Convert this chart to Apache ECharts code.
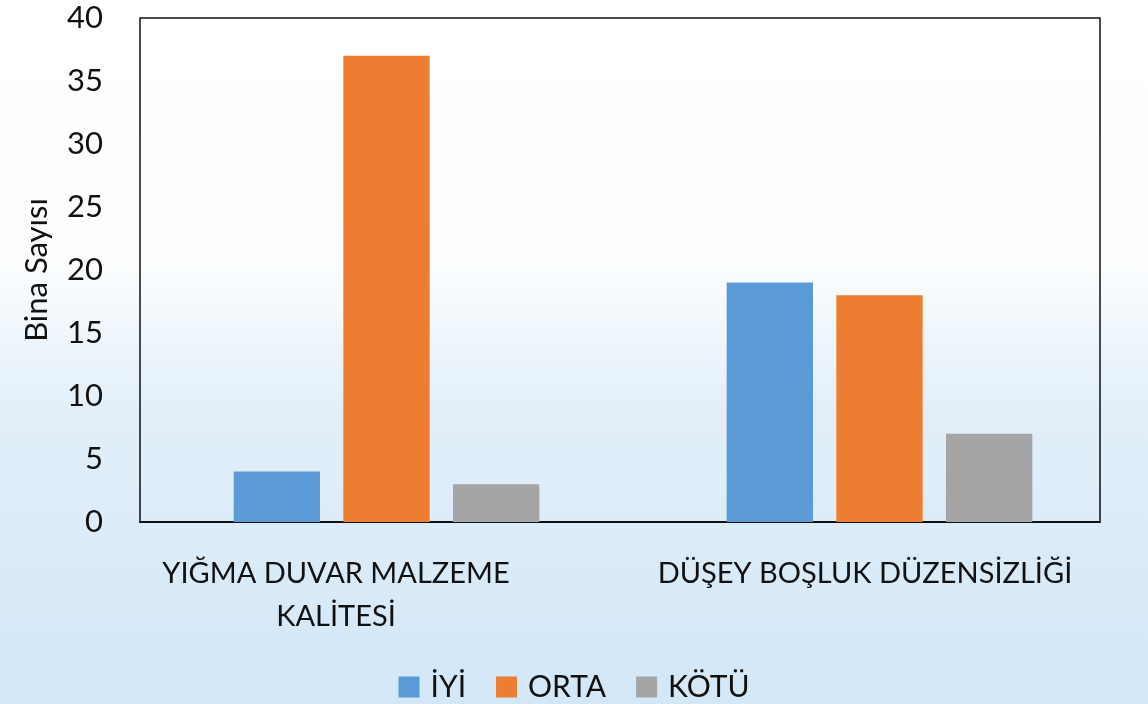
<!DOCTYPE html>
<html>
<head>
<meta charset="utf-8">
<script src="https://cdn.jsdelivr.net/npm/echarts@6/dist/echarts.min.js"></script>
<style>
  html, body { margin: 0; padding: 0; }
  #chart { width: 1148px; height: 704px; }
</style>
</head>
<body>
<div id="chart"></div>
<script>
// kategoriler ve seri değerleri
const categories = ["YIĞMA DUVAR MALZEME KALİTESİ", "DÜŞEY BOŞLUK DÜZENSİZLİĞİ"];
const seriesNames = ["İYİ", "ORTA", "KÖTÜ"];
const iyiValues = [4, 19];
const ortaValues = [37, 18];
const kotuValues = [3, 7];
const yTicks = [0, 5, 10, 15, 20, 25, 30, 35, 40];

const colors = ["#5b9bd5", "#ed7d31", "#a5a5a5"];
const font = "Lato";

const chart = echarts.init(document.getElementById("chart"));

const seriesData = [iyiValues, ortaValues, kotuValues];
const series = seriesNames.map((name, i) => ({
  name: name,
  type: "bar",
  xAxisIndex: 0,
  yAxisIndex: 0,
  barGap: "27%",
  barCategoryGap: "38%",
  itemStyle: { color: colors[i] },
  data: seriesData[i],
}));

// uzun etiketi iki satıra böl
function wrapLabel(v, i) {
  if (i === 0) {
    const words = v.split(" ");
    return "{a|" + words.slice(0, 3).join(" ") + "\n" + words.slice(3).join(" ") + "}";
  }
  return "{b|" + v + "}";
}

const labelBase = {
  fontFamily: font,
  fontSize: 29,
  lineHeight: 43,
  color: "#111",
};

const options = {
  backgroundColor: new echarts.graphic.LinearGradient(0, 0, 0, 1, [
    { offset: 0, color: "#ffffff" },
    { offset: 0.38, color: "#fbfdfe" },
    { offset: 0.58, color: "#e2eff9" },
    { offset: 1, color: "#d3e7f7" },
  ]),
  textStyle: { fontFamily: font },
  grid: [
    // çubuklar
    { left: 140, right: 22, top: 18, bottom: 182, containLabel: false },
    // çerçeve
    {
      left: 140,
      right: 48,
      top: 18,
      bottom: 182,
      show: true,
      borderColor: "#111",
      borderWidth: 1.5,
      backgroundColor: "transparent",
      containLabel: false,
    },
  ],
  legend: {
    data: seriesNames,
    top: 667,
    left: "center",
    icon: "rect",
    itemWidth: 21,
    itemHeight: 21,
    itemGap: 30,
    textStyle: {
      fontFamily: font,
      fontSize: 30,
      color: "#111",
      padding: [0, 0, 0, 6],
    },
  },
  xAxis: [
    {
      type: "category",
      gridIndex: 0,
      data: categories,
      axisTick: { show: false },
      axisLine: { show: false },
      axisLabel: { show: false },
    },
    {
      type: "category",
      gridIndex: 1,
      data: categories,
      axisTick: { show: false },
      axisLine: { lineStyle: { color: "#111", width: 2 } },
      axisLabel: {
        interval: 0,
        margin: 30,
        formatter: wrapLabel,
        rich: {
          a: Object.assign({}, labelBase, { padding: [0, 88, 0, 0] }),
          b: Object.assign({}, labelBase, { padding: [0, 0, 0, 10] }),
        },
      },
    },
  ],
  yAxis: [
    {
      type: "value",
      gridIndex: 0,
      min: 0,
      max: 40,
      interval: 5,
      name: "Bina Sayısı",
      nameLocation: "middle",
      nameGap: 88,
      nameTextStyle: { fontFamily: font, fontSize: 31, color: "#111" },
      axisLine: { show: false },
      axisTick: { show: false },
      splitLine: { show: false },
      axisLabel: {
        margin: 37,
        fontFamily: font,
        fontSize: 31,
        color: "#111",
        formatter: (v) => (yTicks.indexOf(v) >= 0 ? String(v) : ""),
      },
    },
    {
      type: "value",
      gridIndex: 1,
      min: 0,
      max: 40,
      interval: 5,
      axisLine: { show: false },
      axisTick: { show: false },
      splitLine: { show: false },
      axisLabel: { show: false },
    },
  ],
  series: series,
};

chart.setOption(options);
</script>
</body>
</html>
